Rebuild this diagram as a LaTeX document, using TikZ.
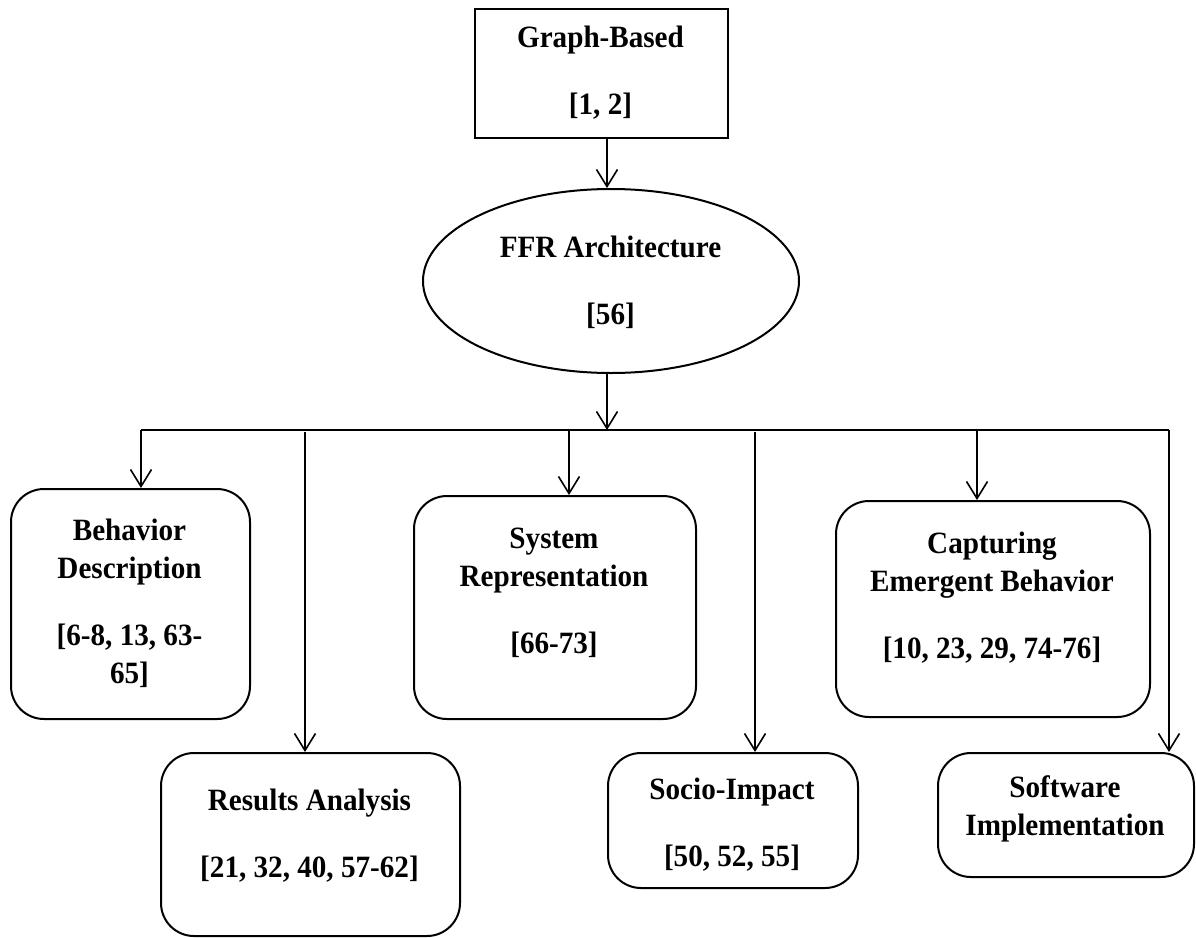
\documentclass[tikz,border=0pt]{standalone}
\usepackage{fontspec}
\setmainfont{Liberation Serif}[FakeStretch=0.94]
\usetikzlibrary{arrows.meta,shapes.geometric}
\begin{document}
\begin{tikzpicture}[x=1pt,y=-1pt,
  txt/.style={font=\fontsize{31}{38}\selectfont\bfseries, align=center, inner sep=0pt},
  rbox/.style={draw, line width=2pt, rounded corners=33pt, inner sep=0pt, anchor=north west},
  sqbox/.style={draw, line width=2pt, inner sep=0pt, anchor=north west},
  conn/.style={line width=1.6pt},
  arr/.style={line width=1.6pt, -{Straight Barb[length=17pt,width=21pt,line width=1.6pt]}}]
\useasboundingbox (0,0) rectangle (1196,937);
% boxes
\node[sqbox, minimum width=253pt, minimum height=129pt] (gb) at (474,8) {};
\node[draw, ellipse, line width=2pt, minimum width=376pt, minimum height=184pt, inner sep=0pt] (ffr) at (611,281) {};
\node[rbox, minimum width=239pt, minimum height=230pt] (beh) at (10,488) {};
\node[rbox, minimum width=299pt, minimum height=183pt] (res) at (160,752) {};
\node[rbox, minimum width=282pt, minimum height=223pt] (sys) at (413,495) {};
\node[rbox, minimum width=250pt, minimum height=135pt] (soc) at (607,752) {};
\node[rbox, minimum width=314pt, minimum height=216pt] (cap) at (835,500) {};
\node[rbox, minimum width=256pt, minimum height=124pt] (soft) at (937,752) {};
% texts
\node[txt] (gbT) at (600.5,73) {Graph-Based\\[29pt][1, 2]};
\node[txt] (ffrT) at (610.5,282.5) {FFR Architecture\\[29pt][56]};
\node[txt] (behT) at (129.5,603) {Behavior\\Description\\[29pt][6-8, 13, 63-\\65]};
\node[txt] (resT) at (309.5,835.5) {Results Analysis\\[29pt][21, 32, 40, 57-62]};
\node[txt] (sysT) at (554,593) {System\\Representation\\[29pt][66-73]};
\node[txt] (socT) at (732,824.5) {Socio-Impact\\[29pt][50, 52, 55]};
\node[txt] (capT) at (992,597.5) {Capturing\\Emergent Behavior\\[29pt][10, 23, 29, 74-76]};
\node[txt] (softT) at (1065,809) {Software\\Implementation};
% connectors
\coordinate (busM) at (607,430);
\coordinate (busL) at (141,430);
\coordinate (busR) at (1169,430);
\coordinate (t2) at (305,432);
\coordinate (t3) at (569,430);
\coordinate (t4) at (755,432);
\coordinate (t5) at (977,430);
\draw[arr] (gb.south -| busM) -- (ffr.north -| busM);
\draw[arr] (ffr.south -| busM) -- (busM);
\draw[conn] (busL) -- (busR);
\draw[arr] (busL) -- (busL |- beh.north);
\draw[arr] (t2) -- (t2 |- res.north);
\draw[arr] (t3) -- (t3 |- sys.north);
\draw[arr] (t4) -- (t4 |- soc.north);
\draw[arr] (t5) -- (t5 |- cap.north);
\draw[arr] (busR) -- (busR |- soft.north);
\end{tikzpicture}
\end{document}
